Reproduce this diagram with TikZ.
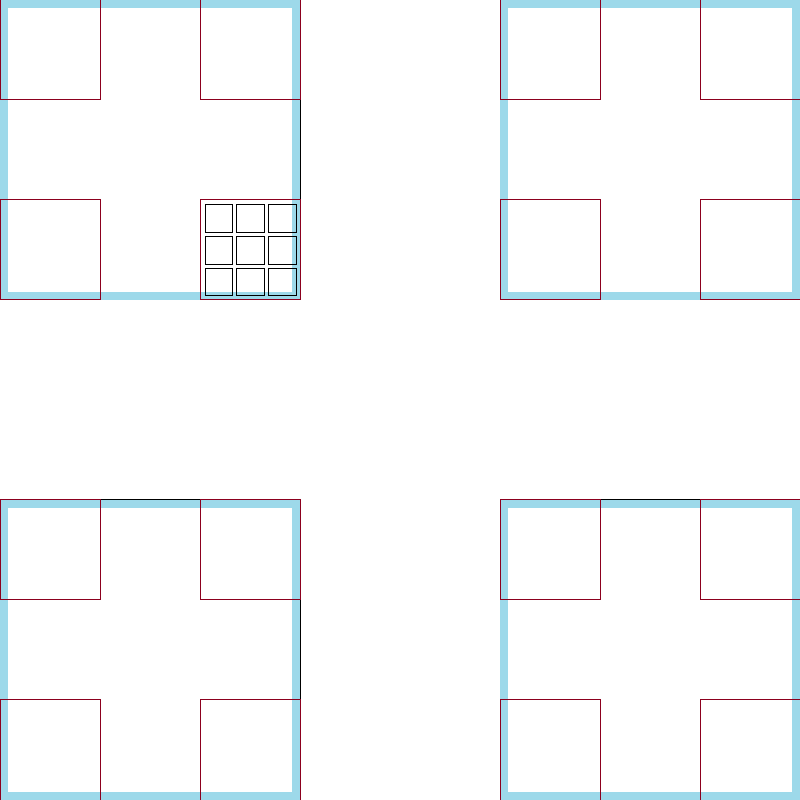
\documentclass[tikz,border=0pt]{standalone}
\definecolor{bandblue}{RGB}{157,217,234}
\definecolor{cellred}{RGB}{140,0,30}
\begin{document}
\begin{tikzpicture}
  [x=1cm,y=1cm,
   outline/.style={draw=black,line width=0.1mm},
   band/.style={draw=bandblue,line width=0.8mm},
   corner/.style={draw=cellred,line width=0.1mm},
   small/.style={draw=black,line width=0.1mm}]
  \useasboundingbox (0,0) rectangle (8,8);

  \foreach \ox/\oy in {0/5, 5/5, 0/0, 5/0}
  {
    \draw[outline] (\ox,\oy) rectangle ++(3,3);
    \draw[band] (\ox+0.04,\oy+0.04) rectangle ++(2.92,2.92);
    \foreach \cx/\cy in {0/0, 2/0, 0/2, 2/2}
      \draw[corner] (\ox+\cx,\oy+\cy) rectangle ++(1,1);
  }

  % subgrid in the lower right cell of the first square
  \foreach \i in {0,1,2}
    \foreach \j in {0,1,2}
      \draw[small] (2.05+0.317*\i,5.04+0.317*\j) rectangle ++(0.277,0.277);
\end{tikzpicture}
\end{document}
